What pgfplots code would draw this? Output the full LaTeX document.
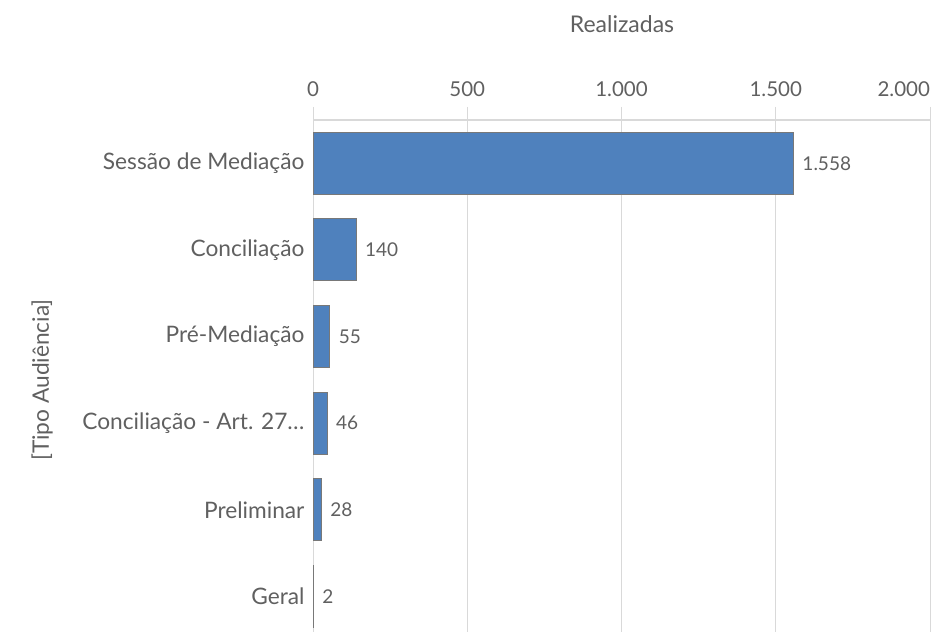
\documentclass[border=0pt]{standalone}
\usepackage{pgfplots}
\pgfplotsset{compat=1.18}
\usepackage{fontspec}
\setmainfont{Lato}
\definecolor{barblue}{RGB}{79,129,189}
\definecolor{baredge}{RGB}{120,120,120}
\definecolor{gridgray}{RGB}{217,217,217}
\definecolor{txtgray}{RGB}{96,96,96}
\begin{document}
\begin{tikzpicture}
\useasboundingbox (0pt,0pt) rectangle (940pt,632pt);
\begin{axis}[
  at={(313pt,0pt)}, anchor=south west,
  scale only axis, width=617pt, height=512pt,
  xbar, bar width=0.716,
  xmin=0, xmax=2000,
  ymin=-0.41, ymax=5.5,
  axis x line*=top,
  axis y line*=left,
  y axis line style={draw=none},
  x axis line style={gridgray, line width=1.2pt},
  xtick={0,500,1000,1500,2000},
  xticklabels={0,500,1.000,1.500,\makebox[0pt][r]{2.000}},
  xtick pos=right,
  tick align=outside,
  major tick length=13pt,
  x tick style={gridgray, line width=1pt},
  y tick style={draw=none},
  xmajorgrids,
  grid style={gridgray, line width=1pt},
  /pgf/number format/.cd, 1000 sep={.}, assume math mode=true,
  /pgfplots/.cd,
  xticklabel style={font=\fontsize{20.5}{24}\selectfont, text=txtgray, yshift=7pt},
  ytick={0,1,2,3,4,5},
  yticklabels={Geral, Preliminar, {Conciliação - Art. 27…}, Pré-Mediação, Conciliação, Sessão de Mediação},
  yticklabel style={font=\fontsize{22.7}{26}\selectfont, text=txtgray, anchor=east, xshift=8pt},
  nodes near coords,
  nodes near coords align={horizontal},
  every node near coord/.append style={font=\fontsize{19}{22}\selectfont, text=txtgray, anchor=west, xshift=5pt},
  clip=false,
]
\addplot[fill=barblue, draw=baredge, line width=1pt] coordinates {
  (2,0) (28,1) (46,2) (55,3) (140,4) (1558,5)
};
\end{axis}
\node[font=\fontsize{23}{27}\selectfont, text=txtgray] at (622pt,608pt) {Realizadas};
\node[rotate=90, font=\fontsize{22.7}{26}\selectfont, text=txtgray] at (42pt,252pt) {[Tipo Audiência]};
\end{tikzpicture}
\end{document}
